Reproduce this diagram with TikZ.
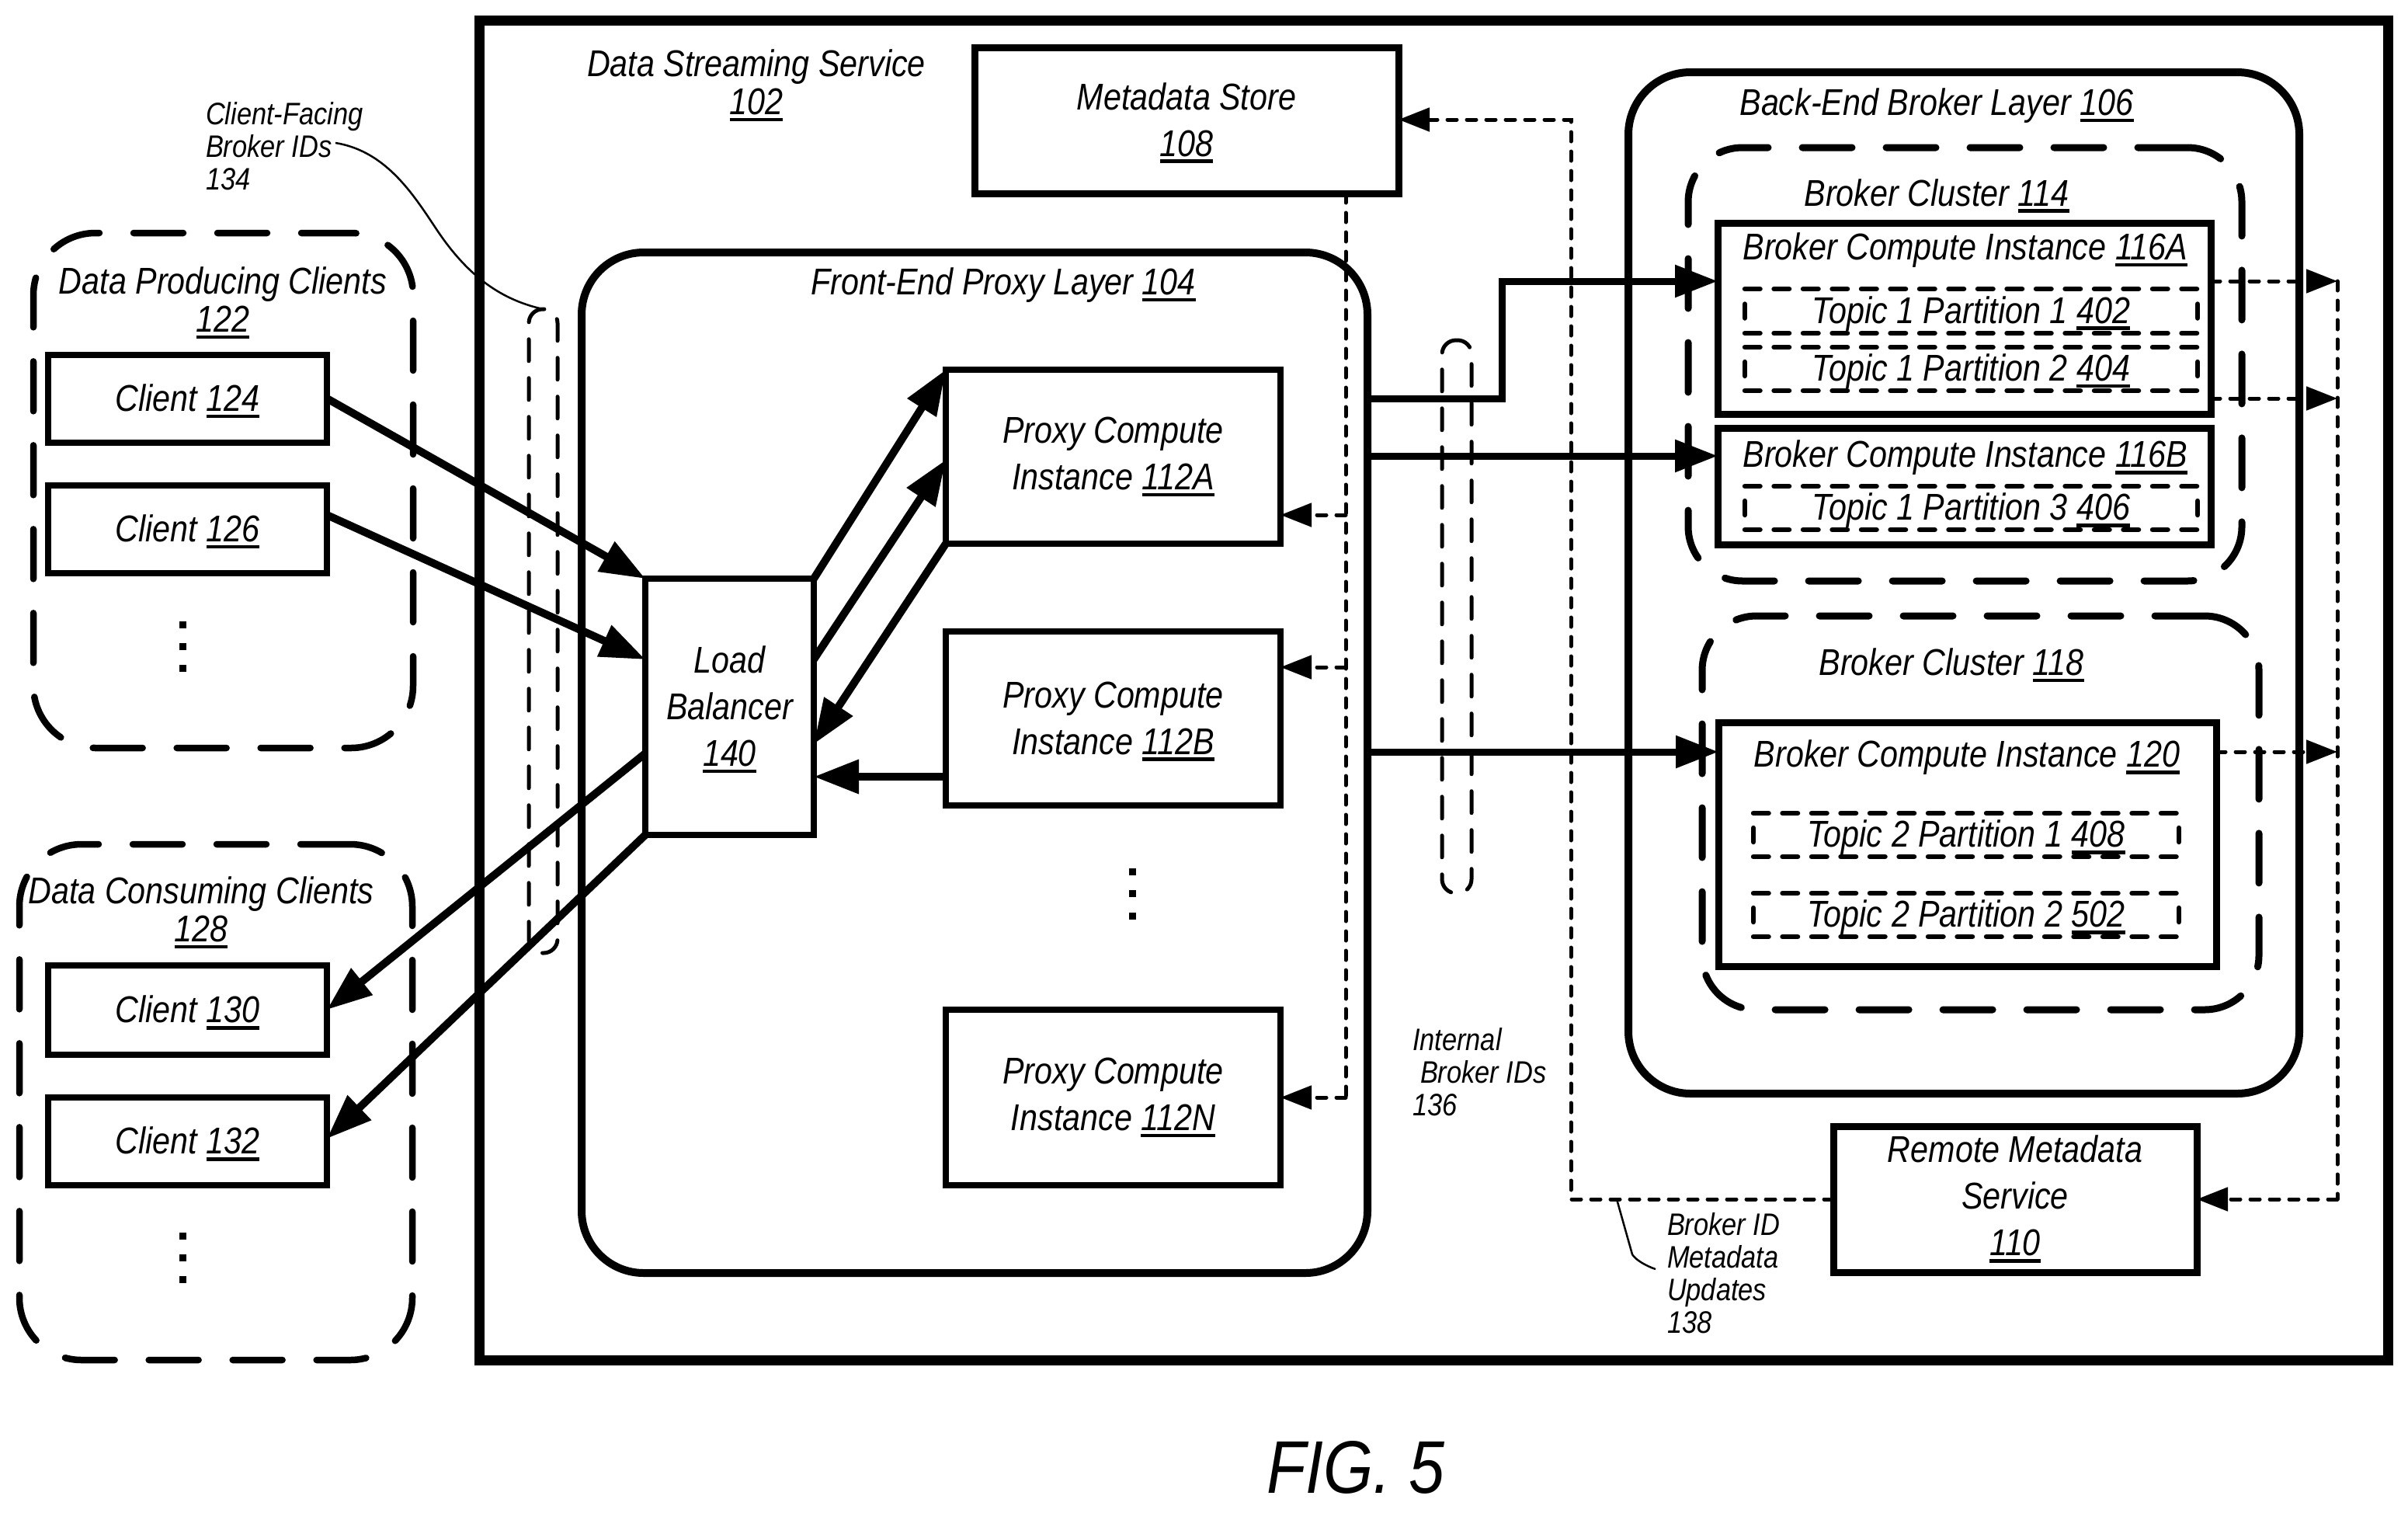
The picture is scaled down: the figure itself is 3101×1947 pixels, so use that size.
\documentclass[tikz,border=0pt]{standalone}
\usepackage{fontspec}
\usetikzlibrary{arrows.meta,calc}
\newfontfamily\dfont{Liberation Sans}[FakeStretch=0.86]
\newcommand\ul[1]{\leavevmode\vtop{\hbox{#1}\kern4pt\hrule height 4.5pt}}
\newcommand\bigtxt{\dfont\itshape\fontsize{48}{60}\selectfont}
\newcommand\tighttxt{\dfont\itshape\fontsize{48}{49}\selectfont}
\newcommand\smalltxt{\dfont\itshape\fontsize{40}{42}\selectfont}
% name, x1, y1, x2, y2, style, text
\newcommand\bx[7]{\node[#6,minimum width={(#4-#2)*1pt},minimum height={(#5-#3)*1pt}] (#1) at ({(#2+#4)/2},{(#3+#5)/2}) {#7};}
% dashed partition box: top and bottom runs with a short tick on each side
\newcommand\tp[6]{\bx{#1}{#2}{#3}{#4}{#5}{plainlabel}{#6}
  \draw[tpdash] (#1.north west) -- (#1.north east);
  \draw[tpdash] (#1.south west) -- (#1.south east);
  \draw[tptick] ($(#1.west)+(0,-9)$) -- ($(#1.west)+(0,9)$);
  \draw[tptick] ($(#1.east)+(0,-9)$) -- ($(#1.east)+(0,9)$);}
\tikzset{
  x=1pt,y=-1pt,
  core/.style={outer sep=0pt,inner sep=0pt,align=center,font=\bigtxt,text=black},
  base/.style={core,execute at begin node={\rule{0pt}{41pt}}},
  plainlabel/.style={base},
  solidbox/.style={base,draw,line width=8pt},
  heavybox/.style={base,draw,line width=9pt},
  roundbox/.style={base,draw,line width=10pt,rounded corners=80pt},
  groupbox/.style={base,draw,line width=8.5pt,rounded corners=80pt,line cap=round,dash pattern=on 64pt off 44pt},
  clusterbox/.style={base,draw,line width=9pt,rounded corners=70pt,line cap=round,dash pattern=on 64pt off 44pt},
  ovalbox/.style={base,draw,line width=5pt,rounded corners=18pt,line cap=round,dash pattern=on 28pt off 22pt},
  tpdash/.style={line width=6.5pt,line cap=round,dash pattern=on 19.5pt off 18pt},
  tptick/.style={line width=6.5pt,line cap=round},
  lab/.style={base},
  tightlab/.style={base,font=\tighttxt},
  small/.style={core,font=\smalltxt,align=left},
  flow/.style={line width=10pt,-{Triangle[length=58pt,width=42pt]}},
  bus/.style={line width=9pt,-{Triangle[length=55pt,width=40pt]}},
  meta/.style={line width=5pt,line cap=round,dash pattern=on 12pt off 13pt},
  metaarrow/.style={meta,-{Triangle[length=40pt,width=30pt]}},
  leader/.style={line width=2.5pt},
  dotmark/.style={fill=black,inner sep=0pt,minimum size=9pt},
}
\begin{document}
\begin{tikzpicture}
\useasboundingbox (0,0) rectangle (3101,1947);
\fill[white] (0,0) rectangle (3101,1947);
% containers
\bx{service}{617}{26}{3075}{1751}{base,draw,line width=13pt}{}
\bx{front}{749}{325}{1761}{1639}{roundbox}{}
\bx{back}{2097}{93}{2961}{1408}{roundbox}{}
\bx{cl114}{2174}{190}{2887}{748}{clusterbox}{}
\bx{cl118}{2192}{793}{2909}{1300}{clusterbox}{}
\bx{prod}{43}{300}{532}{963}{groupbox}{}
\bx{cons}{25}{1087}{531}{1751}{groupbox}{}
\bx{oval134}{681}{398}{718}{1227}{ovalbox}{}
\bx{oval136}{1857}{438}{1895}{1150}{ovalbox}{}
% boxes
\bx{c124}{62}{457}{421}{570}{solidbox}{Client \ul{124}}
\bx{c126}{62}{625}{421}{738}{solidbox}{Client \ul{126}}
\bx{c130}{62}{1243}{421}{1358}{solidbox}{Client \ul{130}}
\bx{c132}{62}{1413}{421}{1526}{solidbox}{Client \ul{132}}
\bx{lb}{831}{745}{1048}{1075}{solidbox}{\rule{0pt}{41pt}Load\\Balancer\\\ul{140}}
\bx{pa}{1218}{476}{1649}{700}{solidbox}{Proxy Compute\\Instance \ul{112A}}
\bx{pb}{1218}{813}{1649}{1037}{solidbox}{\rule{0pt}{41pt}Proxy Compute\\Instance \ul{112B}}
\bx{pn}{1218}{1300}{1649}{1526}{solidbox}{Proxy Compute\\Instance \ul{112N}}
\bx{store}{1255}{61}{1801}{249}{heavybox}{\rule{0pt}{41pt}Metadata Store\\\ul{108}}
\bx{remote}{2361}{1450}{2829}{1638}{heavybox}{Remote Metadata\\Service\\\ul{110}}
\bx{b116a}{2212}{287}{2847}{533}{heavybox}{}
\bx{b116b}{2212}{551}{2847}{701}{heavybox}{}
\bx{b120}{2213}{930}{2854}{1244}{heavybox}{}
\tp{t402}{2247}{372}{2830}{429}{Topic 1 Partition 1 \ul{402}}
\tp{t404}{2247}{447}{2830}{503}{Topic 1 Partition 2 \ul{404}}
\tp{t406}{2247}{626}{2830}{682}{Topic 1 Partition 3 \ul{406}}
\tp{t408}{2258}{1047}{2806}{1103}{Topic 2 Partition 1 \ul{408}}
\tp{t502}{2258}{1150}{2806}{1206}{Topic 2 Partition 2 \ul{502}}
% labels
\node[tightlab] (l102) at (974,110) {Data Streaming Service\\\ul{102}};
\node[lab] (l104) at (1292,364) {Front-End Proxy Layer \ul{104}};
\node[lab] (l106) at (2494,133) {Back-End Broker Layer \ul{106}};
\node[lab] (l114) at (2494,249) {Broker Cluster \ul{114}};
\node[lab] (l116a) at (2531,319) {Broker Compute Instance \ul{116A}};
\node[lab] (l116b) at (2531,586) {Broker Compute Instance \ul{116B}};
\node[lab] (l118) at (2513,853) {Broker Cluster \ul{118}};
\node[lab] (l120) at (2533,972) {Broker Compute Instance \ul{120}};
\node[tightlab] (l122) at (287,390) {Data Producing Clients\\\ul{122}};
\node[tightlab] (l128) at (259,1175) {Data Consuming Clients\\\ul{128}};
\node[small,anchor=west] (l134) at (265,188) {Client-Facing\\Broker IDs\\134};
\node[small,anchor=west] (l136) at (1819,1380) {Internal\\\hspace{10pt}Broker IDs\\136};
\node[small,anchor=west] (l138) at (2147,1639) {Broker ID\\Metadata\\Updates\\138};
\node[core,font=\dfont\itshape\fontsize{96}{96}\selectfont] (fig) at (1746,1889) {FIG. 5};
% ellipsis dots
\foreach \n/\x/\y in {a/235/804,b/235/832,c/235/860,d/235/1591,e/235/1619,f/235/1647,g/1458/1122,h/1458/1150,i/1458/1179}
  \node[dotmark] (dot\n) at (\x,\y) {};
% client flows
\coordinate (c124o) at (421,513);
\coordinate (c126o) at (421,663);
\coordinate (lbin) at (831,849);
\coordinate (lbo1) at (831,970);
\coordinate (c130i) at (421,1300);
\coordinate (c132i) at (421,1466);
\draw[flow] (c124o) -- (lb.north west);
\draw[flow] (c126o) -- (lbin);
\draw[flow] (lbo1) -- (c130i);
\draw[flow] (lb.south west) -- (c132i);
% proxy flows
\coordinate (lbm) at (1048,849);
\coordinate (pam) at (1218,592);
\coordinate (lbr) at (1048,958);
\coordinate (lbb) at (1048,1000);
\coordinate (pbo) at (1218,1000);
\draw[flow] (lb.north east) -- (pa.north west);
\draw[flow] (lbm) -- (pam);
\draw[flow] (pa.south west) -- (lbr);
\draw[flow] (pbo) -- (lbb);
% back-end flows
\coordinate (f1) at (1761,513);
\coordinate (f1b) at (1934,513);
\coordinate (t116a) at (2212,362);
\coordinate (f2) at (1761,587);
\coordinate (t116b) at (2212,587);
\coordinate (f3) at (1761,968);
\coordinate (t120) at (2213,968);
\draw[bus] (f1) -- (f1b) |- (t116a);
\draw[bus] (f2) -- (t116b);
\draw[bus] (f3) -- (t120);
% metadata paths
\coordinate (a1) at (2847,362);
\coordinate (b1) at (3010,362);
\coordinate (a2) at (2847,513);
\coordinate (b2) at (3010,513);
\coordinate (a3) at (2854,968);
\coordinate (b3) at (3010,968);
\coordinate (corner) at (3010,1544);
\coordinate (remin) at (2829,1544);
\coordinate (remout) at (2361,1544);
\coordinate (upc) at (2023,1544);
\coordinate (upt) at (2023,154);
\coordinate (storein) at (1801,154);
\coordinate (sto) at (1733,249);
\coordinate (dr1) at (1733,663);
\coordinate (dr2) at (1733,859);
\coordinate (dr3) at (1733,1413);
\coordinate (pai) at (1649,663);
\coordinate (pbi) at (1649,859);
\coordinate (pni) at (1649,1413);
\draw[metaarrow] (a1) -- (b1);
\draw[metaarrow] (a2) -- (b2);
\draw[metaarrow] (a3) -- (b3);
\draw[meta] (b1) -- (corner);
\draw[metaarrow] (corner) -- (remin);
\draw[metaarrow] (remout) -- (upc) -- (upt) -- (storein);
\draw[meta] (sto) -- (dr3);
\draw[metaarrow] (dr1) -- (pai);
\draw[metaarrow] (dr2) -- (pbi);
\draw[metaarrow] (dr3) -- (pni);
% leaders
\coordinate (lead134) at (432,184);
\coordinate (lead134m) at (566,301);
\coordinate (lead138a) at (2082,1544);
\coordinate (lead138b) at (2102,1615);
\coordinate (lead138c) at (2132,1634);
\draw[leader] (lead134) .. controls (500,195) and (535,255) .. (lead134m) .. controls (600,350) and (640,385) .. (oval134.north);
\draw[leader] (lead138a) -- (lead138b) .. controls (2106,1622) and (2120,1630) .. (lead138c);
\end{tikzpicture}
\end{document}
